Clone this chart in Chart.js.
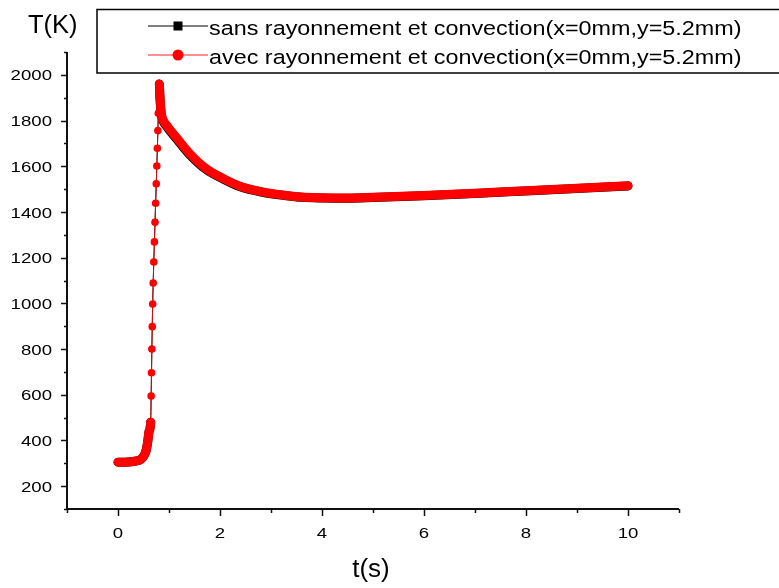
<!DOCTYPE html>
<html>
<head>
<meta charset="utf-8">
<script src="https://cdn.jsdelivr.net/npm/chart.js@4.4.1/dist/chart.umd.min.js"></script>
<style>
  html, body { margin: 0; padding: 0; background: #fff; }
  #wrap { width: 779px; height: 588px; }
</style>
</head>
<body>
<div id="wrap"><canvas id="tempChart" width="779" height="588"></canvas></div>
<script>
// temps (s) et temperature (K) au point x=0mm, y=5.2mm
const time = [
    0, 0.1, 0.2, 0.3, 0.4, 0.45, 0.5, 0.55, 0.58, 0.61, 0.64,
    0.65, 0.657, 0.664, 0.672, 0.68, 0.69, 0.702, 0.714, 0.726, 0.738, 0.75, 0.761, 0.772, 0.782, 0.791, 0.8,
    0.81, 0.82, 0.835, 0.85, 0.88, 0.95, 1.0, 1.14, 1.4, 1.72, 2.05, 2.38, 2.83, 3.3, 3.6, 4.0, 4.5, 5.0, 6.0, 7.0, 8.0, 9.0, 10.0
];
const tempSans = [
    305, 305, 306, 308, 312, 318, 330, 355, 390, 440, 480,
    594, 696, 800, 898, 997, 1089, 1181, 1269, 1355, 1438, 1523, 1601, 1679, 1756, 1832, 1905,
    1960, 1912, 1857, 1825, 1800, 1775, 1760, 1722, 1652, 1587, 1545, 1511, 1486, 1471, 1464, 1461, 1460, 1463, 1471, 1481, 1492, 1503, 1514
];
const tempAvec = [
    305, 305, 306, 308, 312, 318, 330, 355, 390, 440, 480,
    594, 696, 800, 898, 997, 1089, 1181, 1269, 1355, 1438, 1523, 1601, 1679, 1756, 1832, 1905,
    1960, 1915, 1862, 1830, 1805, 1780, 1765, 1727, 1657, 1591, 1548, 1514, 1488, 1472, 1465, 1462, 1461, 1464, 1472, 1482, 1493, 1504, 1515
];
const xTicks = [0, 2, 4, 6, 8, 10];
const yTicks = [200, 400, 600, 800, 1000, 1200, 1400, 1600, 1800, 2000];
const seriesNames = [
    'sans rayonnement et convection(x=0mm,y=5.2mm)',
    'avec rayonnement et convection(x=0mm,y=5.2mm)'
];

const FONT = "'Liberation Sans', Arial, sans-serif";

// the sharp rise is sampled sparsely: thin connecting line there, thick band elsewhere
function segWidth(ctx) {
    const a = ctx.p0.parsed.x, b = ctx.p1.parsed.x;
    return (a >= 0.64 && b <= 0.81) ? 1 : 9;
}

function points(values) {
    return time.map((t, i) => ({ x: t, y: values[i] }));
}

// text drawn slightly widened, like the exported figure
function wideText(ctx, text, x, y, size, stretch, align) {
    ctx.save();
    ctx.font = size + 'px ' + FONT;
    ctx.textAlign = align;
    ctx.textBaseline = 'alphabetic';
    ctx.translate(x, y);
    ctx.scale(stretch, 1);
    ctx.fillText(text, 0, 0);
    ctx.restore();
}

const decor = {
    id: 'decor',
    afterDraw(chart) {
        const ctx = chart.ctx;
        const xs = chart.scales.x, ys = chart.scales.y;
        const area = chart.chartArea;
        ctx.save();

        // axes
        ctx.strokeStyle = '#111';
        ctx.lineWidth = 2;
        ctx.beginPath();
        ctx.moveTo(area.left, area.top);
        ctx.lineTo(area.left, area.bottom);
        ctx.lineTo(area.right, area.bottom);
        ctx.stroke();

        // tick marks, major and minor
        ctx.lineWidth = 1.5;
        ctx.beginPath();
        for (let v = ys.min; v <= ys.max; v += 100) {
            const y = Math.round(ys.getPixelForValue(v)) + 0.5;
            const len = yTicks.includes(v) ? 6 : 3;
            ctx.moveTo(area.left, y);
            ctx.lineTo(area.left - len, y);
        }
        for (let v = xs.min; v <= xs.max; v += 1) {
            const x = Math.round(xs.getPixelForValue(v)) + 0.5;
            const len = xTicks.includes(v) ? 7 : 4;
            ctx.moveTo(x, area.bottom);
            ctx.lineTo(x, area.bottom + len);
        }
        ctx.stroke();

        // tick labels
        ctx.fillStyle = '#000';
        yTicks.forEach(v => {
            wideText(ctx, String(v), 52, ys.getPixelForValue(v) + 5.6, 15.5, 1.2, 'right');
        });
        xTicks.forEach(v => {
            wideText(ctx, String(v), xs.getPixelForValue(v), 538, 15.5, 1.2, 'center');
        });

        // axis titles
        wideText(ctx, 'T(K)', 28, 33, 25.5, 1, 'left');
        wideText(ctx, 't(s)', (area.left + area.right) / 2 - 2, 577, 26, 1, 'center');

        // legend
        ctx.lineWidth = 1.5;
        ctx.strokeStyle = '#000';
        ctx.strokeRect(97, 9.5, 800, 63.5);
        const rows = [26, 55];
        chart.data.datasets.forEach(ds => {
            const y = rows[ds.legendRow];
            ctx.strokeStyle = ds.legendLine;
            ctx.lineWidth = 1.3;
            ctx.beginPath();
            ctx.moveTo(148, y);
            ctx.lineTo(208, y);
            ctx.stroke();
            ctx.fillStyle = ds.backgroundColor;
            if (ds.pointStyle === 'rect') {
                ctx.fillRect(178 - 4.5, y - 4.5, 9, 9);
            } else {
                ctx.beginPath();
                ctx.arc(178, y, 5.5, 0, Math.PI * 2);
                ctx.fill();
            }
            ctx.fillStyle = '#000';
            wideText(ctx, ds.label, 209, y + 8.5, 20.5, 1.14, 'left');
        });
        ctx.restore();
    }
};

const myChart = new Chart(document.getElementById('tempChart').getContext('2d'), {
    type: 'line',
    data: {
        datasets: [{
            label: seriesNames[1],
            data: points(tempAvec),
            borderColor: '#ff0000',
            backgroundColor: '#ff0000',
            legendLine: '#ff6a6a',
            legendRow: 1,
            pointStyle: 'circle',
            pointRadius: 3.8,
            pointBorderWidth: 0,
            borderCapStyle: 'round',
            borderJoinStyle: 'round',
            cubicInterpolationMode: 'monotone',
            segment: {
                borderWidth: segWidth,
                borderColor: ctx => segWidth(ctx) === 1 ? '#d01010' : '#ff0000'
            },
            order: 1
        }, {
            label: seriesNames[0],
            data: points(tempSans),
            borderColor: '#000',
            backgroundColor: '#000',
            legendLine: '#555',
            legendRow: 0,
            pointStyle: 'rect',
            pointRadius: 3.8,
            pointBorderWidth: 0,
            borderCapStyle: 'round',
            borderJoinStyle: 'round',
            cubicInterpolationMode: 'monotone',
            segment: { borderWidth: segWidth },
            order: 2
        }]
    },
    options: {
        responsive: false,
        animation: false,
        events: [],
        layout: { padding: { top: 52, right: 100, left: 0, bottom: 0 } },
        plugins: { legend: { display: false }, tooltip: { enabled: false } },
        scales: {
            x: {
                type: 'linear',
                min: -1,
                max: 11,
                afterBuildTicks: s => { s.ticks = xTicks.map(v => ({ value: v })); },
                afterFit: s => { s.height = 79; },
                grid: { display: false },
                border: { display: false },
                ticks: { display: false }
            },
            y: {
                type: 'linear',
                min: 100,
                max: 2100,
                afterBuildTicks: s => { s.ticks = yTicks.map(v => ({ value: v })); },
                afterFit: s => { s.width = 67; },
                grid: { display: false },
                border: { display: false },
                ticks: { display: false }
            }
        }
    },
    plugins: [decor]
});
</script>
</body>
</html>
